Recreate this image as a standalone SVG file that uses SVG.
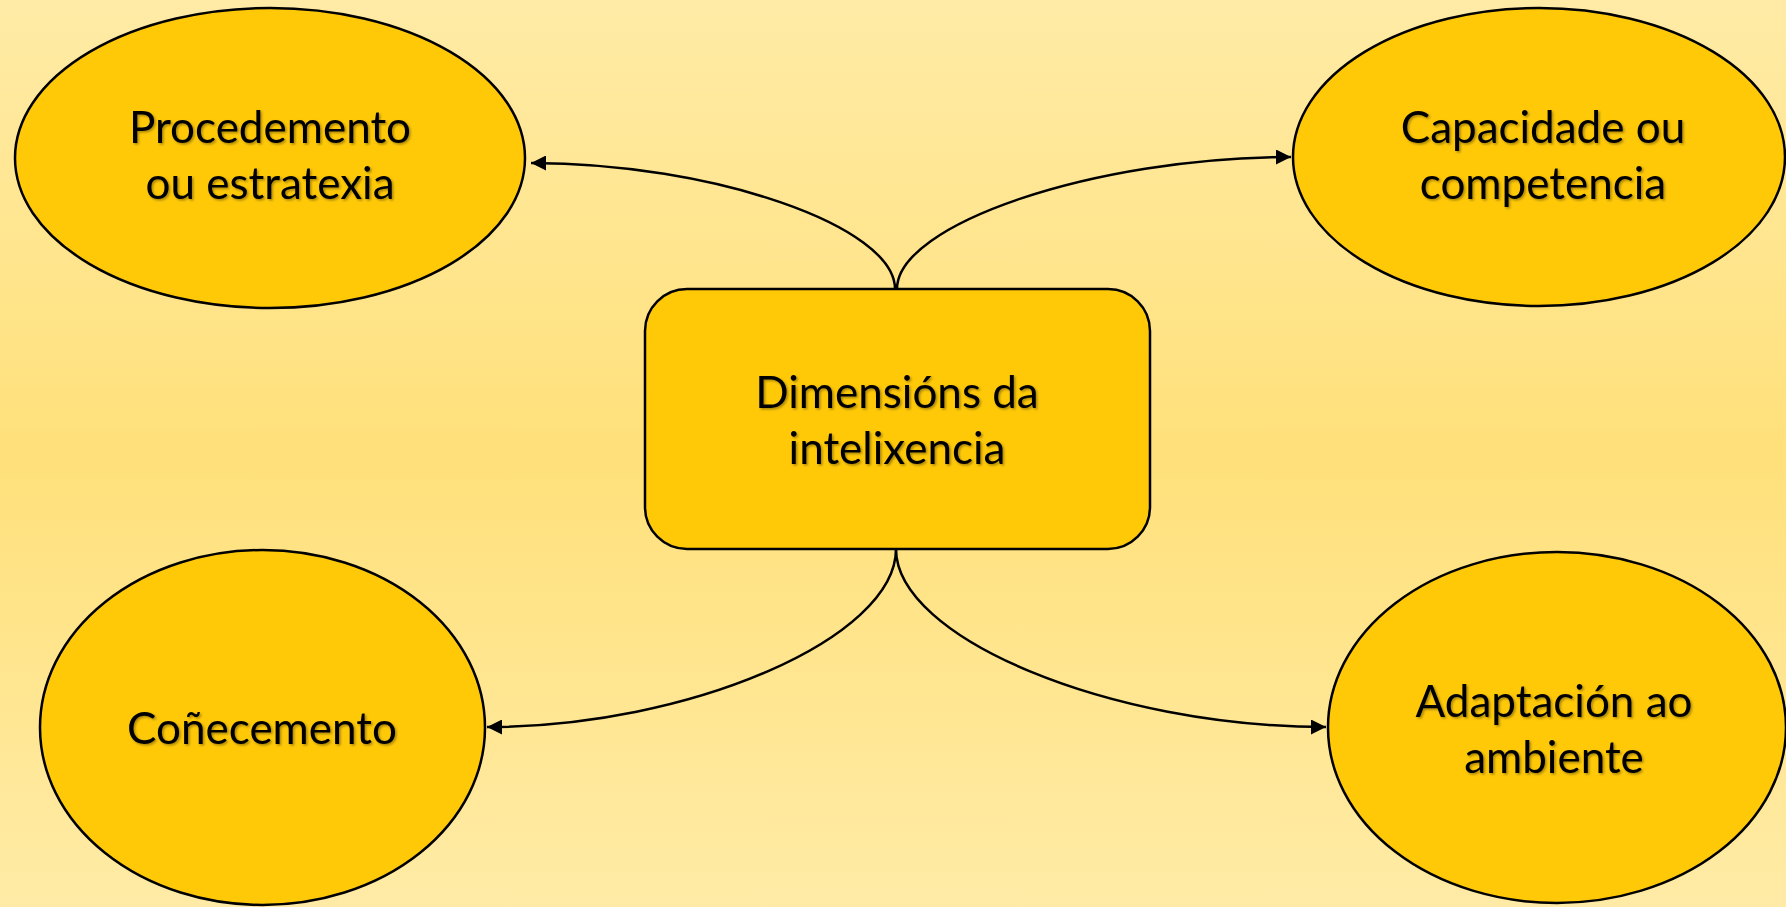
<svg xmlns="http://www.w3.org/2000/svg" width="1786" height="907" viewBox="0 0 1786 907">
<defs>
<linearGradient id="bg" x1="0" y1="0" x2="0" y2="1">
<stop offset="0" stop-color="#FFEBA6"/>
<stop offset="0.5" stop-color="#FFE07A"/>
<stop offset="1" stop-color="#FFEBA6"/>
</linearGradient>
<filter id="sh" x="-10%" y="-20%" width="120%" height="140%">
<feDropShadow dx="1.5" dy="1.5" stdDeviation="1" flood-color="#000" flood-opacity="0.35"/>
</filter>
<marker id="arr" viewBox="0 0 10 10" refX="10" refY="5" markerUnits="userSpaceOnUse" markerWidth="16" markerHeight="15" orient="auto">
<path d="M0,0 L10,5 L0,10 Z" fill="#000"/>
</marker>
</defs>
<style>
.node{fill:#FFC908;stroke:#000;stroke-width:2.5}
.lbl{font-family:Lato,"Open Sans","Liberation Sans",sans-serif;font-size:44px;fill:#000;text-anchor:middle;filter:url(#sh)}
.con{fill:none;stroke:#000;stroke-width:2.5;marker-end:url(#arr)}
</style>
<rect x="0" y="0" width="1786" height="907" fill="url(#bg)"/>
<g id="connectors">
<path class="con" d="M895,289 C895,226 712,163 531,163"/>
<path class="con" d="M897,289 C897,224 1095,157 1291,157"/>
<path class="con" d="M896,549 C896,638 690,727 487,727"/>
<path class="con" d="M896,549 C896,638 1110,727 1326,727"/>
</g>
<g id="n-center">
<rect class="node" x="645" y="289" width="505" height="260" rx="42" ry="42"/>
<text class="lbl" x="897" y="408">Dimensións da</text>
<text class="lbl" x="897" y="464">intelixencia</text>
</g>
<g id="n-procedemento">
<ellipse class="node" cx="270" cy="158" rx="255" ry="150"/>
<text class="lbl" x="270" y="143">Procedemento</text>
<text class="lbl" x="270" y="199">ou estratexia</text>
</g>
<g id="n-capacidade">
<ellipse class="node" cx="1539" cy="157" rx="246" ry="149"/>
<text class="lbl" x="1543" y="143">Capacidade ou</text>
<text class="lbl" x="1543" y="199">competencia</text>
</g>
<g id="n-conecemento">
<ellipse class="node" cx="262.5" cy="727.5" rx="222.5" ry="177.5"/>
<text class="lbl" x="262" y="744">Coñecemento</text>
</g>
<g id="n-adaptacion">
<ellipse class="node" cx="1557" cy="727.5" rx="229" ry="175.5"/>
<text class="lbl" x="1554" y="717">Adaptación ao</text>
<text class="lbl" x="1554" y="773">ambiente</text>
</g>
</svg>
